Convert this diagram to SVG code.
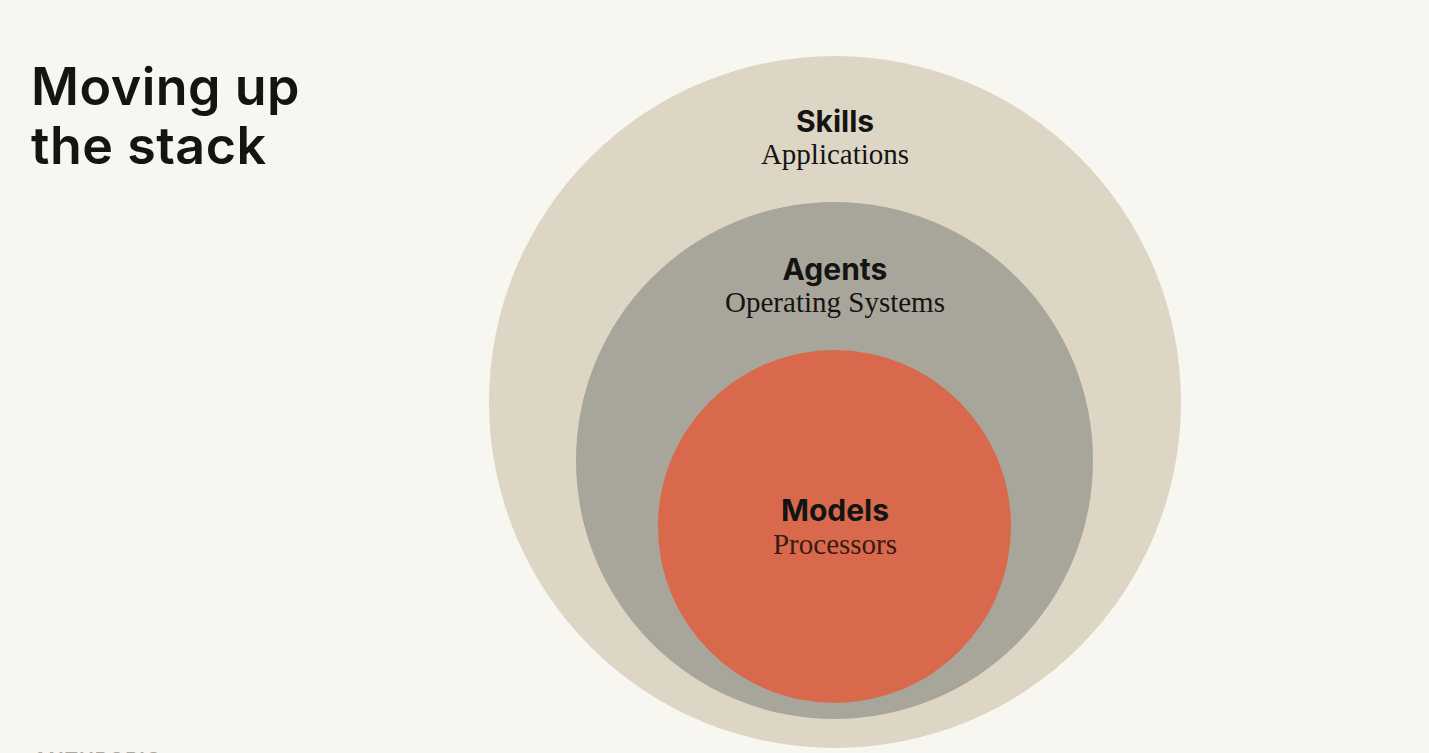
<svg xmlns="http://www.w3.org/2000/svg" width="1429" height="753" viewBox="0 0 1429 753">
<style>
.h{font-family:"Inter","Noto Sans",sans-serif;font-weight:700;fill:#141413;text-anchor:middle;font-size:30px}
.s{font-family:"Liberation Serif","DejaVu Serif",serif;fill:#141413;text-anchor:middle;font-size:29px}
.t{font-family:"Inter","Noto Sans",sans-serif;font-weight:600;fill:#141413;font-size:52px;letter-spacing:0.5px}
</style>
<rect width="1429" height="753" fill="#f7f6f0"/>
<g id="title">
<text class="t" x="31" y="105">Moving up</text>
<text class="t" x="31" y="164">the stack</text>
</g>
<g id="skills">
<circle cx="835" cy="402" r="346" fill="#ded6c4"/>
<text class="h" x="835" y="132">Skills</text>
<text class="s" x="835" y="164">Applications</text>
</g>
<g id="agents">
<circle cx="834.5" cy="460.5" r="258.5" fill="#a8a69a"/>
<text class="h" x="835" y="280">Agents</text>
<text class="s" x="835" y="312">Operating Systems</text>
</g>
<g id="models">
<circle cx="834.5" cy="526.5" r="176.5" fill="#d8694c"/>
<text class="h" x="835" y="521">Models</text>
<text class="s" x="835" y="554" style="fill:#3a1a12">Processors</text>
</g>
<g id="connectors"></g>
<text x="33" y="767" font-family="Inter, sans-serif" font-weight="600" font-size="20" letter-spacing="1" fill="#a9a79e">ANTHROPIC</text>
</svg>
